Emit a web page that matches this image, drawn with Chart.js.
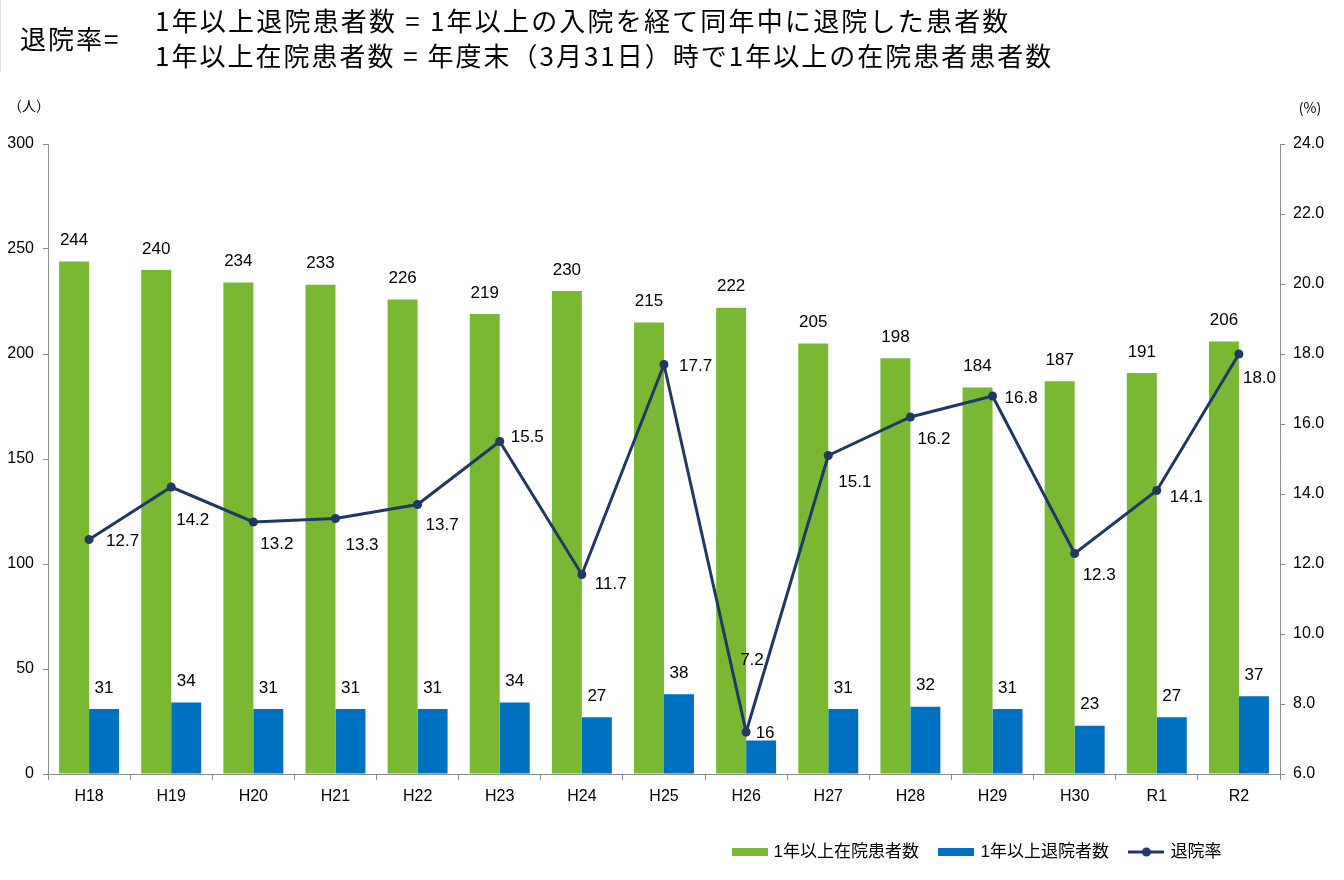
<!DOCTYPE html>
<html><head><meta charset="utf-8">
<script src="https://cdn.jsdelivr.net/npm/chart.js@4.4.0/dist/chart.umd.min.js"></script>
<style>
html,body{margin:0;padding:0;background:#fff;}
#wrap{position:relative;width:1344px;height:880px;overflow:hidden;background:#fff;}
#c{position:absolute;left:0;top:0;}
.t{position:absolute;font-family:"Noto Sans CJK JP",sans-serif;font-size:26px;line-height:34px;color:#000;white-space:nowrap;letter-spacing:2.2px;}
#box{position:absolute;left:0;top:0;width:1px;height:72px;background:#e2e2e2;}
</style></head>
<body><div id="wrap">
<canvas id="c" width="1344" height="880"></canvas>
<div id="box"></div>
<div class="t" style="left:20px;top:21px;letter-spacing:2px">退院率=</div>
<div class="t" style="left:155px;top:3px">1年以上退院患者数 = 1年以上の入院を経て同年中に退院した患者数</div>
<div class="t" style="left:155px;top:38px;letter-spacing:2px">1年以上在院患者数 = 年度末（3月31日）時で1年以上の在院患者患者数</div>
</div>
<script>
// ---- data ----
const categories = ['H18','H19','H20','H21','H22','H23','H24','H25','H26','H27','H28','H29','H30','R1','R2'];
const inpatientsOver1Yr = [244,240,234,233,226,219,230,215,222,205,198,184,187,191,206];
const dischargedOver1Yr = [31,34,31,31,31,34,27,38,16,31,32,31,23,27,37];
const dischargeRate = [12.7,14.2,13.2,13.3,13.7,15.5,11.7,17.7,7.2,15.1,16.2,16.8,12.3,14.1,18.0];
const leftTickValues = [0,50,100,150,200,250,300];
const rightTickValues = [6,8,10,12,14,16,18,20,22,24];
const seriesNames = ['1年以上在院患者数','1年以上退院者数','退院率'];
const unitLabels = ['（人）','(%)'];

// ---- styles ----
const GREEN = '#79B833', BLUE = '#0070C0', NAVY = '#1F3864', AXIS = '#8C8C8C';
const FONT = "'Liberation Sans','Noto Sans CJK JP',sans-serif";
const rateLabelOffsets = [[17,2],[5,33],[7,22],[10,27],[8,21],[11,-4],[13,10],[15,2],[-6,-72],[10,27],[7,22],[12,2],[8,22],[13,7],[4,24]];
const barLabelAdjust = {8:[4,-7]};

function swatch(kind, color){
  const c = document.createElement('canvas'); c.width = 36; c.height = 12;
  const g = c.getContext('2d');
  if (kind === 'bar') { g.fillStyle = color; g.fillRect(0,2,36,8); }
  else {
    g.strokeStyle = color; g.lineWidth = 3; g.beginPath(); g.moveTo(0,6); g.lineTo(36,6); g.stroke();
    g.fillStyle = color; g.beginPath(); g.arc(18,6,4.5,0,Math.PI*2); g.fill();
  }
  return c;
}
const swatches = [swatch('bar',GREEN), swatch('bar',BLUE), swatch('line',NAVY)];

const valueLabels = {
  id:'valueLabels',
  afterDatasetsDraw(chart){
    const ctx = chart.ctx; ctx.save();
    ctx.font = '17px ' + FONT; ctx.fillStyle = '#000'; ctx.textBaseline = 'middle';
    [0,1].forEach(di => {
      chart.getDatasetMeta(di).data.forEach((bar,i) => {
        let dx = 0, dy = -21;
        if (di === 1 && barLabelAdjust[i]) { dx = barLabelAdjust[i][0]; dy = barLabelAdjust[i][1]; }
        ctx.textAlign = 'center';
        ctx.fillText(String(chart.data.datasets[di].data[i]), bar.x + dx, bar.y + dy);
      });
    });
    chart.getDatasetMeta(2).data.forEach((p,i) => {
      ctx.textAlign = 'left';
      ctx.fillText(dischargeRate[i].toFixed(1), p.x + rateLabelOffsets[i][0], p.y + rateLabelOffsets[i][1]);
    });
    ctx.font = "14px 'Noto Sans CJK JP',sans-serif"; ctx.textAlign = 'center';
    const yl = chart.scales.y, yr = chart.scales.y1;
    ctx.fillText(unitLabels[0], yl.left + 29, yl.top - 38);
    ctx.fillText(unitLabels[1], yr.left + 30, yr.top - 36);
    ctx.restore();
  }
};

const legendPlace = {
  id:'legendPlace',
  afterLayout(chart){
    const lg = chart.legend; if (!lg) return;
    const w = lg.right - lg.left, h = lg.bottom - lg.top;
    lg.left = 712; lg.right = 712 + w;
    lg.top = 821.5; lg.bottom = 821.5 + h;
  }
};

new Chart(document.getElementById('c'), {
  data: {
    labels: categories,
    datasets: [
      { type:'bar', label: seriesNames[0], data: inpatientsOver1Yr, backgroundColor: GREEN, yAxisID:'y', order:1,
        barPercentage:1, categoryPercentage:0.73 },
      { type:'bar', label: seriesNames[1], data: dischargedOver1Yr, backgroundColor: BLUE, yAxisID:'y', order:1,
        barPercentage:1, categoryPercentage:0.73 },
      { type:'line', label: seriesNames[2], data: dischargeRate, borderColor: NAVY, backgroundColor: NAVY,
        borderWidth:3, pointRadius:4.5, pointBackgroundColor: NAVY, pointBorderWidth:0, tension:0, yAxisID:'y1', order:0 }
    ]
  },
  options: {
    responsive:false, animation:false, devicePixelRatio:1,
    layout:{ padding:{ top:144, bottom:17, left:0, right:0 } },
    plugins:{
      tooltip:{enabled:false},
      legend:{
        position:'bottom', align:'start',
        labels:{
          usePointStyle:true, pointStyleWidth:31, boxHeight:12, padding:22, color:'#000',
          font:{ size:17, family:FONT },
          sort:(a,b) => a.datasetIndex - b.datasetIndex,
          generateLabels(chart){
            const items = Chart.defaults.plugins.legend.labels.generateLabels(chart);
            items.forEach(it => { it.pointStyle = swatches[it.datasetIndex]; });
            return items;
          }
        }
      }
    },
    scales:{
      x:{
        grid:{ display:true, drawOnChartArea:false, tickLength:6, color:AXIS, offset:true },
        border:{ color:AXIS, width:1 },
        ticks:{ font:{ size:16, family:FONT }, color:'#000', padding:7 },
        afterFit(s){ s.height = 40; }
      },
      y:{
        position:'left', min:leftTickValues[0], max:leftTickValues[leftTickValues.length-1],
        ticks:{ stepSize:leftTickValues[1]-leftTickValues[0], font:{ size:16, family:FONT }, color:'#000', padding:9 },
        grid:{ drawOnChartArea:false, tickLength:5, color:AXIS },
        border:{ color:AXIS, width:1 },
        afterFit(s){ s.width = 48; }
      },
      y1:{
        position:'right', min:rightTickValues[0], max:rightTickValues[rightTickValues.length-1],
        ticks:{ stepSize:rightTickValues[1]-rightTickValues[0], callback:v => Number(v).toFixed(1), font:{ size:16, family:FONT }, color:'#000', padding:8 },
        grid:{ drawOnChartArea:false, tickLength:5, color:AXIS },
        border:{ color:AXIS, width:1 },
        afterFit(s){ s.width = 64; }
      }
    }
  },
  plugins:[valueLabels, legendPlace]
});
</script>
</body></html>
